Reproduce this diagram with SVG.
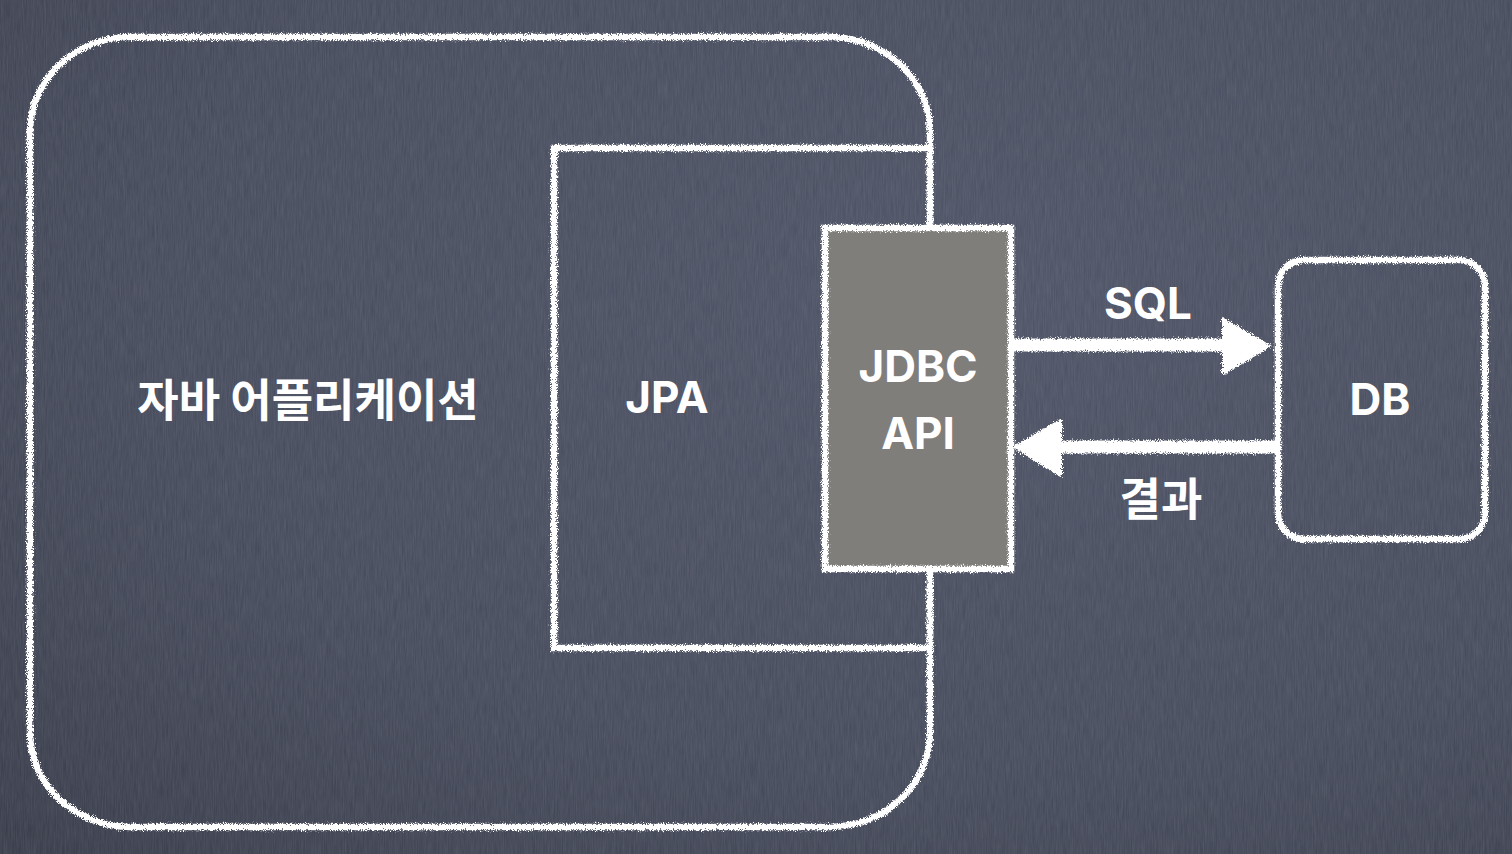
<svg xmlns="http://www.w3.org/2000/svg" width="1512" height="854" viewBox="0 0 1512 854">
  <defs>
    <radialGradient id="bgGrad" cx="0.65" cy="0.35" r="0.9">
      <stop offset="0" stop-color="#4f5467"/>
      <stop offset="0.6" stop-color="#474c5d"/>
      <stop offset="1" stop-color="#3a3e4c"/>
    </radialGradient>
    <filter id="texture" x="0" y="0" width="100%" height="100%">
      <feTurbulence type="fractalNoise" baseFrequency="0.9 0.05" numOctaves="3" seed="4" result="n"/>
      <feColorMatrix in="n" type="matrix" values="0 0 0 0 1  0 0 0 0 1  0 0 0 0 1  0 0 0 0.12 -0.02" result="w"/>
      <feComposite in="w" in2="SourceGraphic" operator="in"/>
    </filter>
    <filter id="chalk" x="-5%" y="-5%" width="110%" height="110%">
      <feTurbulence type="fractalNoise" baseFrequency="1.4 1.0" numOctaves="2" seed="7" result="t"/>
      <feDisplacementMap in="SourceGraphic" in2="t" scale="8" xChannelSelector="R" yChannelSelector="G"/>
    </filter>
    <style>
      .chalk { fill: none; stroke: #ffffff; stroke-width: 6.5; filter: url(#chalk); }
      .lbl { font-family: Inter, "Noto Sans CJK KR", sans-serif; font-weight: 700; fill: #ffffff; text-anchor: middle; }
      .big { font-size: 44px; }
      .ko { font-family: "Noto Sans CJK KR", sans-serif; font-size: 45px; }
    </style>
  </defs>

  <rect x="0" y="0" width="1512" height="854" fill="url(#bgGrad)"/>
  <rect x="0" y="0" width="1512" height="854" fill="#ffffff" filter="url(#texture)"/>

  <g id="app">
    <rect class="chalk" x="30" y="37" width="900" height="790" rx="100" ry="95"/>
    <text class="lbl ko" x="308" y="417">자바 어플리케이션</text>
  </g>

  <g id="jpa">
    <rect class="chalk" x="554" y="148" width="376" height="500"/>
    <text class="lbl big" x="667" y="413">JPA</text>
  </g>

  <g id="jdbc">
    <rect x="825" y="228" width="186" height="341" fill="#807e7b"/>
    <rect class="chalk" x="825" y="228" width="186" height="341"/>
    <text class="lbl big" x="918" y="382">JDBC</text>
    <text class="lbl big" x="918" y="449">API</text>
  </g>

  <g id="db">
    <rect class="chalk" x="1278" y="260" width="207" height="279" rx="26" ry="26"/>
    <text class="lbl big" x="1380" y="415">DB</text>
  </g>

  <g id="connectors">
    <g filter="url(#chalk)">
      <line x1="1013" y1="345" x2="1226" y2="345" stroke="#fff" stroke-width="13"/>
      <polygon points="1222,317 1272,346 1222,376" fill="#fff"/>
      <line x1="1276" y1="447" x2="1058" y2="447" stroke="#fff" stroke-width="13"/>
      <polygon points="1062,418 1012,447 1062,478" fill="#fff"/>
    </g>
    <text class="lbl big" x="1148" y="319">SQL</text>
    <text class="lbl ko" x="1161" y="516">결과</text>
  </g>
</svg>
